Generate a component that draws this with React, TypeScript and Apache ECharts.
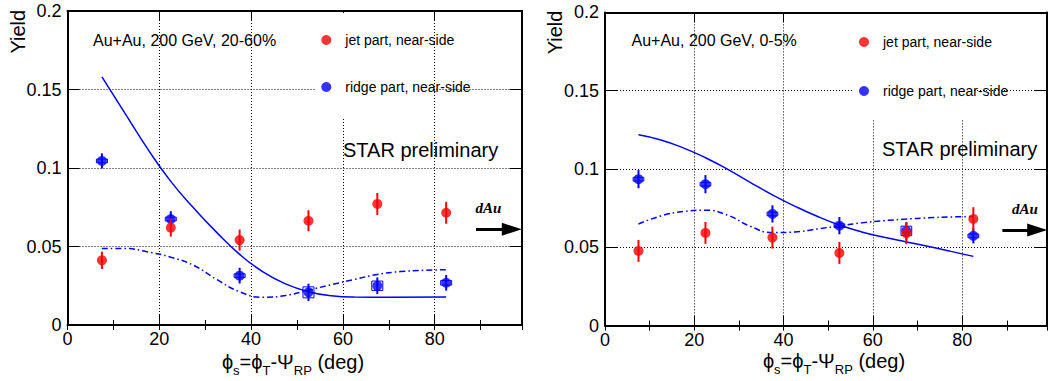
import React, { useEffect, useRef } from "react";
import * as echarts from "echarts";

const phiS = [7.5, 22.5, 37.5, 52.5, 67.5, 82.5];

// Au+Au 20-60%
const jetMid = [0.0412, 0.062, 0.0541, 0.0664, 0.0771, 0.0715];
const jetMidErr = [0.0055, 0.0057, 0.0067, 0.0067, 0.007, 0.007];
const ridgeMid = [0.1045, 0.0675, 0.0314, 0.0208, 0.025, 0.0269];
const ridgeMidErr = [0.0048, 0.005, 0.005, 0.0055, 0.0053, 0.005];
const ridgeMidSys = [0.0012, 0.0012, 0.0012, 0.0035, 0.003, 0.0015];
const fitMidSolid = [
  [7.5, 0.158], [12.5, 0.135], [17.5, 0.112], [22.5, 0.0915], [27.5, 0.0745], [32.5, 0.059],
  [37.5, 0.045], [42.5, 0.034], [47.5, 0.0262], [52.5, 0.0212], [57.5, 0.0186], [62.5, 0.0178],
  [70, 0.0177], [82.5, 0.0178],
];
const fitMidDash = [
  [7.5, 0.0487], [12.5, 0.0487], [17.5, 0.0465], [22.5, 0.0432], [27.5, 0.038], [32.5, 0.029],
  [37.5, 0.0212], [42.5, 0.0177], [47.5, 0.0188], [52.5, 0.0222], [57.5, 0.0257], [62.5, 0.029],
  [67.5, 0.0322], [72.5, 0.034], [77.5, 0.0348], [82.5, 0.0352],
];

// Au+Au 0-5%
const jetCen = [0.0477, 0.0592, 0.0562, 0.0464, 0.059, 0.0681];
const jetCenErr = [0.007, 0.007, 0.007, 0.007, 0.007, 0.0075];
const ridgeCen = [0.0935, 0.0903, 0.0713, 0.0638, 0.0605, 0.0573];
const ridgeCenErr = [0.0058, 0.0058, 0.0055, 0.0055, 0.0055, 0.0048];
const ridgeCenSys = [0.0012, 0.0012, 0.0012, 0.0012, 0.003, 0.0012];
const fitCenSolid = [
  [7.5, 0.1218], [12.5, 0.1185], [17.5, 0.1135], [22.5, 0.1072], [27.5, 0.0998], [32.5, 0.0915],
  [37.5, 0.0835], [42.5, 0.0763], [47.5, 0.0698], [52.5, 0.0642], [57.5, 0.0598], [62.5, 0.0564],
  [67.5, 0.0534], [72.5, 0.0505], [77.5, 0.0474], [82.5, 0.0442],
];
const fitCenDash = [
  [7.5, 0.0649], [12.5, 0.07], [17.5, 0.0728], [22.5, 0.0737], [27.5, 0.0705], [32.5, 0.0635],
  [37.5, 0.0594], [42.5, 0.0598], [47.5, 0.0617], [52.5, 0.0637], [57.5, 0.0656], [62.5, 0.067],
  [67.5, 0.068], [72.5, 0.0688], [77.5, 0.0694], [82.5, 0.0696],
];

const dAuYield = 0.061;
const dAuFrom = 89;
const dAuTo = 96.8;

const JET = "jet part, near-side";
const RIDGE = "ridge part, near-side";
const RED = "#ff0000";
const BLUE = "#0000ff";
const FONT = '"Liberation Sans", Arial, Helvetica, sans-serif';
const SERIF = '"Liberation Serif", "Times New Roman", serif';

const errRender = (color: string, withBox: boolean) => (params: any, api: any) => {
  const x = api.value(0);
  const y = api.value(1);
  const e = api.value(2);
  const p1 = api.coord([x, y + e]);
  const p2 = api.coord([x, y - e]);
  const children: any[] = [
    { type: "line", shape: { x1: p1[0], y1: p1[1], x2: p2[0], y2: p2[1] }, style: { stroke: color, lineWidth: 2 } },
  ];
  if (withBox) {
    const s = api.value(3);
    const a = api.coord([x - 1.2, y + s]);
    const b = api.coord([x + 1.2, y - s]);
    children.push({
      type: "rect",
      shape: { x: a[0], y: a[1], width: b[0] - a[0], height: b[1] - a[1] },
      style: { stroke: color, fill: "none", lineWidth: 1 },
    });
  }
  return { type: "group", children };
};

const frame = { show: true, onZero: false, lineStyle: { color: "#000", width: 2 } };
const grid = { show: true, lineStyle: { color: "#000", type: [1, 2], width: 1 } };

function xAxesFor(gridIndex: number) {
  const base = { gridIndex, type: "value", min: 0, max: 99 };
  return [
    {
      ...base, interval: 20, position: "bottom", axisLine: frame,
      axisTick: { inside: true, length: 10, lineStyle: { color: "#000", width: 1 } },
      axisLabel: {
        margin: 5, fontSize: 18, color: "#000", fontFamily: FONT,
        formatter: (v: number) => (v % 20 === 0 ? String(v) : ""),
      },
      splitLine: grid,
    },
    {
      ...base, interval: 10, position: "bottom", axisLine: { show: false },
      axisTick: { inside: true, length: 5, lineStyle: { color: "#000", width: 1 } },
      axisLabel: { show: false }, splitLine: { show: false },
    },
    {
      ...base, interval: 20, position: "top", axisLine: frame,
      axisTick: { inside: true, length: 10, lineStyle: { color: "#000", width: 1 } },
      axisLabel: { show: false }, splitLine: { show: false },
    },
    {
      ...base, interval: 10, position: "top", axisLine: { show: false },
      axisTick: { inside: true, length: 5, lineStyle: { color: "#000", width: 1 } },
      axisLabel: { show: false }, splitLine: { show: false },
    },
  ];
}

function yAxesFor(gridIndex: number) {
  const base = { gridIndex, type: "value", min: 0, max: 0.2, interval: 0.05 };
  return [
    {
      ...base, position: "left", axisLine: frame,
      axisTick: { inside: true, length: 12, lineStyle: { color: "#000", width: 1 } },
      axisLabel: { margin: 6, fontSize: 18, color: "#000", fontFamily: FONT },
      splitLine: grid,
    },
    {
      ...base, position: "right", axisLine: frame,
      axisTick: { inside: true, length: 12, lineStyle: { color: "#000", width: 1 } },
      axisLabel: { show: false }, splitLine: { show: false },
    },
  ];
}

function panelSeries(
  xi: number, yi: number,
  jet: number[], jetErr: number[], ridge: number[], ridgeErr: number[], ridgeSys: number[],
  solid: number[][], dash: number[][],
) {
  return [
    {
      type: "line", xAxisIndex: xi, yAxisIndex: yi, data: solid, smooth: 0.5,
      symbol: "none", lineStyle: { color: BLUE, width: 1.5 }, silent: true, z: 3,
      markLine: {
        silent: true, symbol: ["none", "triangle"], symbolSize: [13, 20],
        lineStyle: { color: "#000", width: 3, type: "solid" }, label: { show: false },
        data: [[{ coord: [dAuFrom, dAuYield] }, { coord: [dAuTo, dAuYield] }]],
      },
    },
    {
      type: "line", xAxisIndex: xi, yAxisIndex: yi, data: dash, smooth: 0.5,
      symbol: "none", lineStyle: { color: BLUE, width: 1.5, type: [6, 3, 1.5, 3] }, silent: true, z: 3,
    },
    {
      type: "custom", xAxisIndex: xi, yAxisIndex: yi, renderItem: errRender(BLUE, true), silent: true, z: 4,
      data: phiS.map((x, i) => [x, ridge[i], ridgeErr[i], ridgeSys[i]]),
    },
    {
      type: "scatter", name: RIDGE, xAxisIndex: xi, yAxisIndex: yi, symbol: "circle", symbolSize: 10,
      itemStyle: { color: BLUE }, z: 5, data: phiS.map((x, i) => [x, ridge[i]]),
    },
    {
      type: "custom", xAxisIndex: xi, yAxisIndex: yi, renderItem: errRender(RED, false), silent: true, z: 6,
      data: phiS.map((x, i) => [x, jet[i], jetErr[i]]),
    },
    {
      type: "scatter", name: JET, xAxisIndex: xi, yAxisIndex: yi, symbol: "circle", symbolSize: 10,
      itemStyle: { color: RED }, z: 7, data: phiS.map((x, i) => [x, jet[i]]),
    },
  ];
}

const legendFor = (left: number, top: number, gap: number) => ({
  orient: "vertical", left, top, itemWidth: 24, itemHeight: 10, itemGap: gap, selectedMode: false,
  textStyle: { fontSize: 14, color: "#000", fontFamily: FONT, padding: [0, 0, 0, 2] },
  data: [{ name: JET, icon: "circle" }, { name: RIDGE, icon: "circle" }],
});

function textEl(x: number, y: number, text: string, extra: any = {}) {
  return {
    type: "text", x, y, z: 10,
    style: { text, fill: "#000", fontFamily: FONT, fontSize: 16, verticalAlign: "middle", align: "left", ...extra },
  };
}

// x-axis title with subscripts, pieces laid out by measured widths
const titleParts: [string, boolean][] = [
  ["ϕ", false], ["s", true], ["=ϕ", false], ["T", true], ["-Ψ", false], ["RP", true], [" (deg)", false],
];
function titleEls(cx: number, cy: number) {
  const ctx = document.createElement("canvas").getContext("2d") as CanvasRenderingContext2D;
  const widths = titleParts.map(([t, sub]) => {
    ctx.font = `${sub ? 13 : 20}px ${FONT}`;
    return ctx.measureText(t).width;
  });
  const total = widths.reduce((a, b) => a + b, 0);
  let x = cx - total / 2;
  return titleParts.map(([t, sub], i) => {
    const el = textEl(x, sub ? cy + 8 : cy, t, { fontSize: sub ? 13 : 20 });
    x += widths[i];
    return el;
  });
}

export default function App() {
  const ref = useRef<HTMLDivElement>(null);
  useEffect(() => {
    if (!ref.current) return;
    const chart = echarts.init(ref.current, undefined, { renderer: "svg" });
    const option: any = {
      animation: false,
      textStyle: { fontFamily: FONT },
      grid: [
        { left: 67.5, top: 11, width: 454.4, height: 314 },
        { left: 605, top: 12.4, width: 454.2, height: 313.2 },
      ],
      xAxis: [...xAxesFor(0), ...xAxesFor(1)],
      yAxis: [...yAxesFor(0), ...yAxesFor(1)],
      legend: [legendFor(316.3, 28, 33), legendFor(854, 30, 35)],
      series: [
        ...panelSeries(0, 0, jetMid, jetMidErr, ridgeMid, ridgeMidErr, ridgeMidSys, fitMidSolid, fitMidDash),
        ...panelSeries(4, 2, jetCen, jetCenErr, ridgeCen, ridgeCenErr, ridgeCenSys, fitCenSolid, fitCenDash),
      ],
      graphic: [
        { type: "rect", z: 1, shape: { x: 316, y: 13, width: 116, height: 105 }, style: { fill: "#fff" } },
        { type: "rect", z: 1, shape: { x: 853, y: 14, width: 116, height: 106 }, style: { fill: "#fff" } },
        textEl(93, 40, "Au+Au, 200 GeV, 20-60%"),
        textEl(631.5, 40, "Au+Au, 200 GeV, 0-5%"),
        textEl(343, 150, "STAR preliminary", { fontSize: 20 }),
        textEl(882, 149, "STAR preliminary", { fontSize: 20 }),
        textEl(475.5, 207.7, "dAu", { fontSize: 15, fontStyle: "italic", fontWeight: "bold", fontFamily: SERIF }),
        textEl(1012, 209.3, "dAu", { fontSize: 15, fontStyle: "italic", fontWeight: "bold", fontFamily: SERIF }),
        { ...textEl(17.5, 31.7, "Yield", { fontSize: 20, align: "center" }), rotation: Math.PI / 2 },
        { ...textEl(555, 32.5, "Yield", { fontSize: 20, align: "center" }), rotation: Math.PI / 2 },
        ...titleEls(293, 362),
        ...titleEls(834, 361),
      ],
    };
    chart.setOption(option);
    return () => chart.dispose();
  }, []);
  return <div ref={ref} style={{ position: "absolute", left: 0, top: 0, width: 1050, height: 381 }} />;
}
